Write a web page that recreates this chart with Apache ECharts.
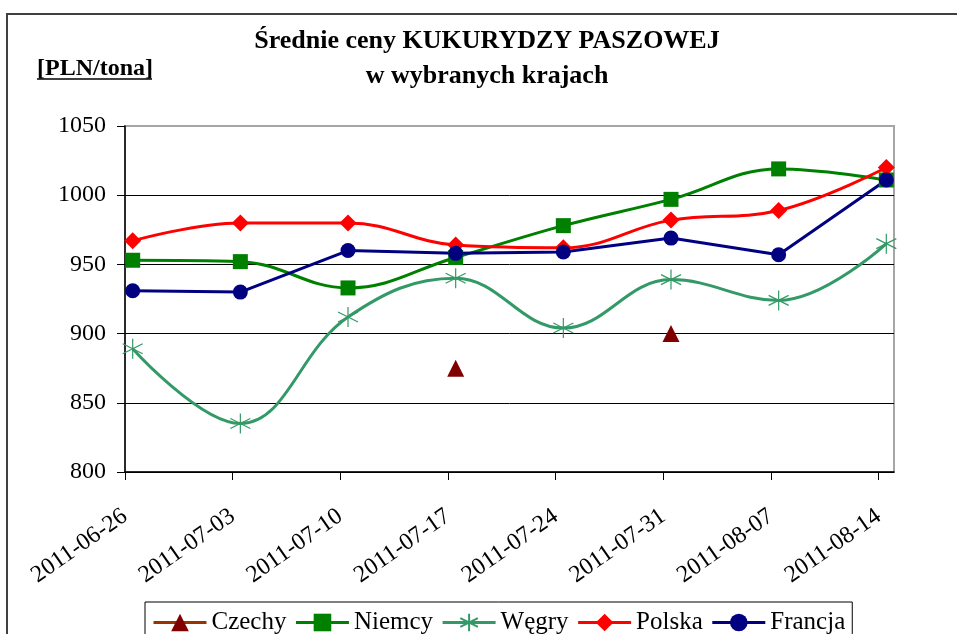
<!DOCTYPE html>
<html>
<head>
<meta charset="utf-8">
<title>Średnie ceny kukurydzy paszowej</title>
<script src="https://cdn.jsdelivr.net/npm/echarts@6/dist/echarts.min.js"></script>
<style>
  html, body { margin: 0; padding: 0; background: #fff; }
  #chart { width: 957px; height: 634px; }
</style>
</head>
<body>
<div id="chart"></div>
<script>
// dane
const dates = ['2011-06-26', '2011-07-03', '2011-07-10', '2011-07-17', '2011-07-24', '2011-07-31', '2011-08-07', '2011-08-14']
const czechy = [null, null, null, 875, null, 900, null, null]
const niemcy = [953, 952, 933, 955, 978, 997, 1019, 1011]
const wegry = [889, 835, 912, 940, 904, 939, 924, 965]
const polska = [967, 980, 980, 964, 962, 982, 989, 1020]
const francja = [931, 930, 960, 958, 959, 969, 957, 1011]
const yTicks = [800, 850, 900, 950, 1000, 1050]

const FONT = '"Times New Roman", "Liberation Serif", serif'

// os dat jak w Excelu: punkt w srodku dnia
const dayOf = (d) => (Date.parse(d) - Date.parse(dates[0])) / 864e5
const tickDays = dates.map(dayOf)
const pointDays = tickDays.map((d) => d + 0.5)
const pairs = (vals) => vals.map((v, i) => [pointDays[i], v])

function lineSeries(name, vals, color, symbol, size, extra) {
  return Object.assign({
    name: name,
    type: 'line',
    data: pairs(vals),
    symbol: symbol,
    symbolSize: size,
    lineStyle: { color: color, width: 3 },
    itemStyle: { color: color }
  }, extra || {})
}

const chart = echarts.init(document.getElementById('chart'))
chart.setOption({
  animation: false,
  backgroundColor: '#fff',
  title: {
    text: 'Średnie ceny KUKURYDZY PASZOWEJ\nw wybranych krajach',
    left: 487,
    top: 24,
    padding: 0,
    textAlign: 'center',
    textStyle: {
      fontFamily: FONT,
      fontSize: 26,
      fontWeight: 'bold',
      color: '#000',
      lineHeight: 35
    }
  },
  graphic: [
    {
      type: 'rect',
      shape: { x: 7, y: 14, width: 1000, height: 700 },
      style: { fill: 'none', stroke: '#404040', lineWidth: 2 },
      silent: true
    },
    {
      type: 'text',
      left: 37,
      top: 57,
      style: { text: '[PLN/tona]', font: 'bold 24px ' + FONT, fill: '#000' }
    },
    {
      type: 'line',
      shape: { x1: 37, y1: 79, x2: 152, y2: 79 },
      style: { stroke: '#000', lineWidth: 1.5 }
    }
  ],
  legend: {
    left: 145,
    top: 602,
    padding: [8, 7, 8, 7],
    borderColor: '#000',
    borderWidth: 1,
    itemWidth: 53,
    itemHeight: 22,
    itemGap: 8,
    lineStyle: { width: 3 },
    textStyle: { fontFamily: FONT, fontSize: 25, color: '#000' },
    data: ['Czechy', 'Niemcy', 'Węgry', 'Polska', 'Francja']
  },
  grid: {
    left: 125,
    top: 126,
    right: 63,
    bottom: 162,
    show: true,
    borderColor: '#a6a6a6',
    borderWidth: 2
  },
  xAxis: {
    type: 'value',
    min: 0,
    max: 50,
    axisLine: { lineStyle: { color: '#000', width: 1.5 } },
    axisTick: {
      inside: false,
      length: 8,
      customValues: tickDays,
      lineStyle: { color: '#000' }
    },
    axisLabel: {
      customValues: tickDays,
      rotate: 35,
      margin: 42,
      fontFamily: FONT,
      fontSize: 24,
      color: '#000',
      formatter: (v) => dates[tickDays.indexOf(v)] || ''
    },
    splitLine: { show: false }
  },
  yAxis: {
    type: 'value',
    min: yTicks[0],
    max: yTicks[yTicks.length - 1],
    interval: 50,
    axisLine: { show: true, lineStyle: { color: '#000', width: 1.5 } },
    axisTick: { show: true, length: 8, lineStyle: { color: '#000' } },
    axisLabel: {
      margin: 19,
      fontFamily: FONT,
      fontSize: 24,
      color: '#000',
      formatter: (v) => String(v)
    },
    splitLine: { lineStyle: { color: ['#000', '#000', '#000', '#000', '#000', '#a6a6a6'], width: 1 } }
  },
  series: [
    lineSeries('Czechy', czechy, '#800000', 'triangle', 17, {
      lineStyle: { color: '#993300', width: 3 }
    }),
    lineSeries('Niemcy', niemcy, '#008000', 'rect', 15, { smooth: 0.4 }),
    lineSeries('Węgry', wegry, '#339966', 'path://M0,-10L0,10M-8.66,-5L8.66,5M-8.66,5L8.66,-5', 20, {
      smooth: 0.4,
      itemStyle: { color: '#339966', borderColor: '#339966', borderWidth: 1.2 }
    }),
    lineSeries('Polska', polska, '#ff0000', 'diamond', 17, { smooth: 0.4 }),
    lineSeries('Francja', francja, '#000080', 'circle', 15)
  ]
})
</script>
</body>
</html>
